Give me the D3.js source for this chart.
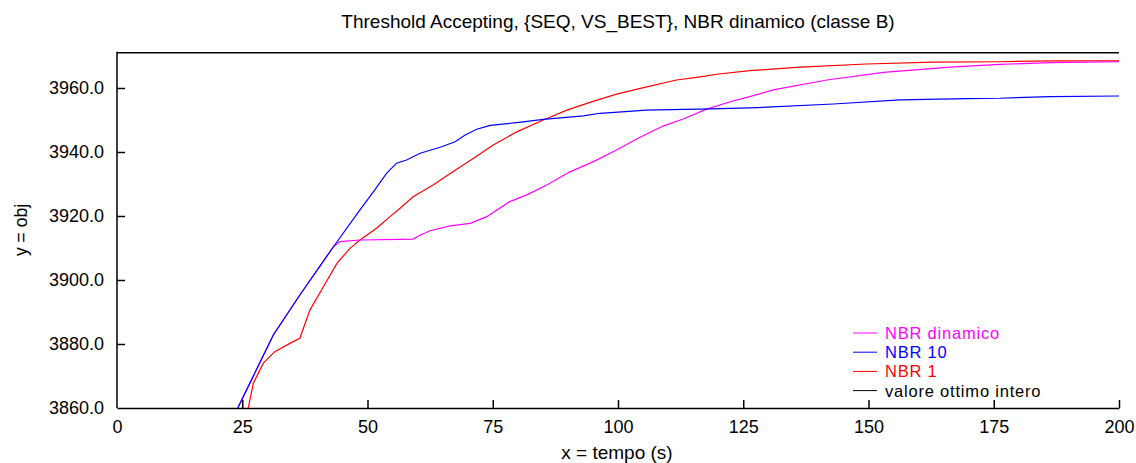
<!DOCTYPE html>
<html><head><meta charset="utf-8">
<script src="https://cdn.jsdelivr.net/npm/d3@7"></script>
<style>body{margin:0;background:#fff}svg{display:block}text{font-family:"Liberation Sans",Arial,sans-serif}</style>
</head><body><svg id="c" width="1136" height="463"></svg>
<script>
const title = "Threshold Accepting, {SEQ, VS_BEST}, NBR dinamico (classe B)";
const xLabel = "x = tempo (s)";
const yLabel = "y = obj";
const xTicks = [0,25,50,75,100,125,150,175,200];
const yTicks = [3860,3880,3900,3920,3940,3960];
const optimum = 3971;
const seriesNames = ["NBR dinamico","NBR 10","NBR 1","valore ottimo intero"];
const seriesColors = ["#ff00ff","#0000ff","#ff0000","#000000"];
const nbrDinX = [24.1,31.2,36.5,43.2,44.5,48.5,56.5,59.1,60.5,62.5,66.5,70.5,73.8,78.4,81.8,85.8,90.4,95.1,99.7,104.4,109,113,117.7,122.4,126.3,131,141.7,153,166.3,176.2,186.2,200];
const nbrDinY = [3860,3882.8,3895.3,3910.4,3912,3912.5,3912.7,3912.8,3914,3915.4,3916.9,3917.7,3919.8,3924.5,3926.6,3929.7,3933.8,3937,3940.6,3944.6,3948.1,3950.3,3953.4,3955.7,3957.3,3959.4,3962.5,3964.9,3966.5,3967.4,3967.9,3968.2];
const nbr10X = [24.1,31.2,36.5,43.2,48.5,51.2,53.8,55.8,57.8,60.5,64.5,67.5,69.5,71.8,74.5,79.8,85.1,93.1,96.4,105.7,113,116.4,126.3,129.7,143,156.3,169.6,176.2,186.2,200];
const nbr10Y = [3860,3882.8,3895.3,3910.4,3921.9,3927.6,3933.3,3936.5,3937.5,3939.6,3941.5,3943.2,3945.3,3947.1,3948.3,3949.2,3950.2,3951.3,3952.1,3953.1,3953.3,3953.4,3953.8,3954,3955,3956.3,3956.7,3956.8,3957.3,3957.5];
const nbr1X = [26.2,27.2,29.2,31.5,34.5,36.5,38.5,41.2,43.9,46.5,48.5,51.8,54.5,56.5,59.1,63.1,66.5,71.1,75.1,79.8,85.1,89.8,94.4,99.7,105.1,111.7,116.4,119.7,126.3,136.3,149.6,162.9,176.2,186.2,200];
const nbr1Y = [3860,3867.7,3874,3877.6,3880.2,3881.8,3890.6,3897.9,3905.2,3909.9,3912.5,3916.2,3919.8,3922.4,3926,3929.7,3933.3,3938,3942.2,3946.3,3950,3953.1,3955.5,3958.1,3960.1,3962.5,3963.5,3964.3,3965.4,3966.5,3967.5,3968.1,3968.2,3968.5,3968.5];

const svg = d3.select("#c");
const L=117, R=1119, T=52.8, B=408;
const x = d3.scaleLinear().domain([0,200]).range([L,R]);
const y = d3.scaleLinear().domain([3860,optimum]).range([B,T]);

const xa = svg.append("g").attr("transform",`translate(0,${B})`)
  .call(d3.axisBottom(x).tickValues(xTicks).tickSizeInner(-8).tickSizeOuter(0).tickPadding(12));
const ya = svg.append("g").attr("transform",`translate(${L},0)`)
  .call(d3.axisLeft(y).tickValues(yTicks).tickFormat(d3.format(".1f")).tickSizeInner(-8).tickSizeOuter(0).tickPadding(13));
[xa,ya].forEach(g=>{
  g.select(".domain").attr("stroke","#000").attr("stroke-width",1.5);
  g.selectAll(".tick line").attr("stroke","#000").attr("stroke-width",1.5);
  g.selectAll(".tick text").attr("font-size",18).attr("fill","#000").attr("font-family","Liberation Sans, Arial, sans-serif");
});
xa.selectAll(".tick").filter(d=>d===0).select("line").remove();
ya.selectAll(".tick").filter(d=>d===3860).select("line").remove();
ya.select(".domain").attr("d",`M0,${B}V${T-1}`);

svg.append("clipPath").attr("id","cp").append("rect").attr("x",L).attr("y",T-2).attr("width",R-L).attr("height",B-T+2);
const plot = svg.append("g").attr("clip-path","url(#cp)");
const line = d3.line().x(d=>x(d[0])).y(d=>y(d[1]));
const data = [d3.zip(nbrDinX,nbrDinY), d3.zip(nbr10X,nbr10Y), d3.zip(nbr1X,nbr1Y), [[0,optimum],[200,optimum]]];
[2,0,1].forEach(i=>{
  plot.append("path").datum(data[i]).attr("d",line).attr("fill","none").attr("stroke",seriesColors[i]).attr("stroke-width",1.2);
});
svg.append("path").datum(data[3]).attr("d",line).attr("fill","none").attr("stroke","#000").attr("stroke-width",1.5);

const lg = svg.append("g");
seriesNames.forEach((n,i)=>{
  const yy = 333 + i*19.2;
  lg.append("line").attr("x1",853).attr("x2",877).attr("y1",yy).attr("y2",yy).attr("stroke",seriesColors[i]).attr("stroke-width",1);
  lg.append("text").attr("x",885).attr("y",yy+6).attr("font-size",16.5).attr("letter-spacing",0.8).attr("fill",seriesColors[i]).text(n);
});

svg.append("text").attr("x",618).attr("y",28).attr("text-anchor","middle").attr("font-size",19).text(title);
svg.append("text").attr("x",617).attr("y",459).attr("text-anchor","middle").attr("font-size",19).text(xLabel);
svg.append("text").attr("transform","translate(27,230) rotate(-90)").attr("text-anchor","middle").attr("font-size",17.5).text(yLabel);
</script></body></html>
